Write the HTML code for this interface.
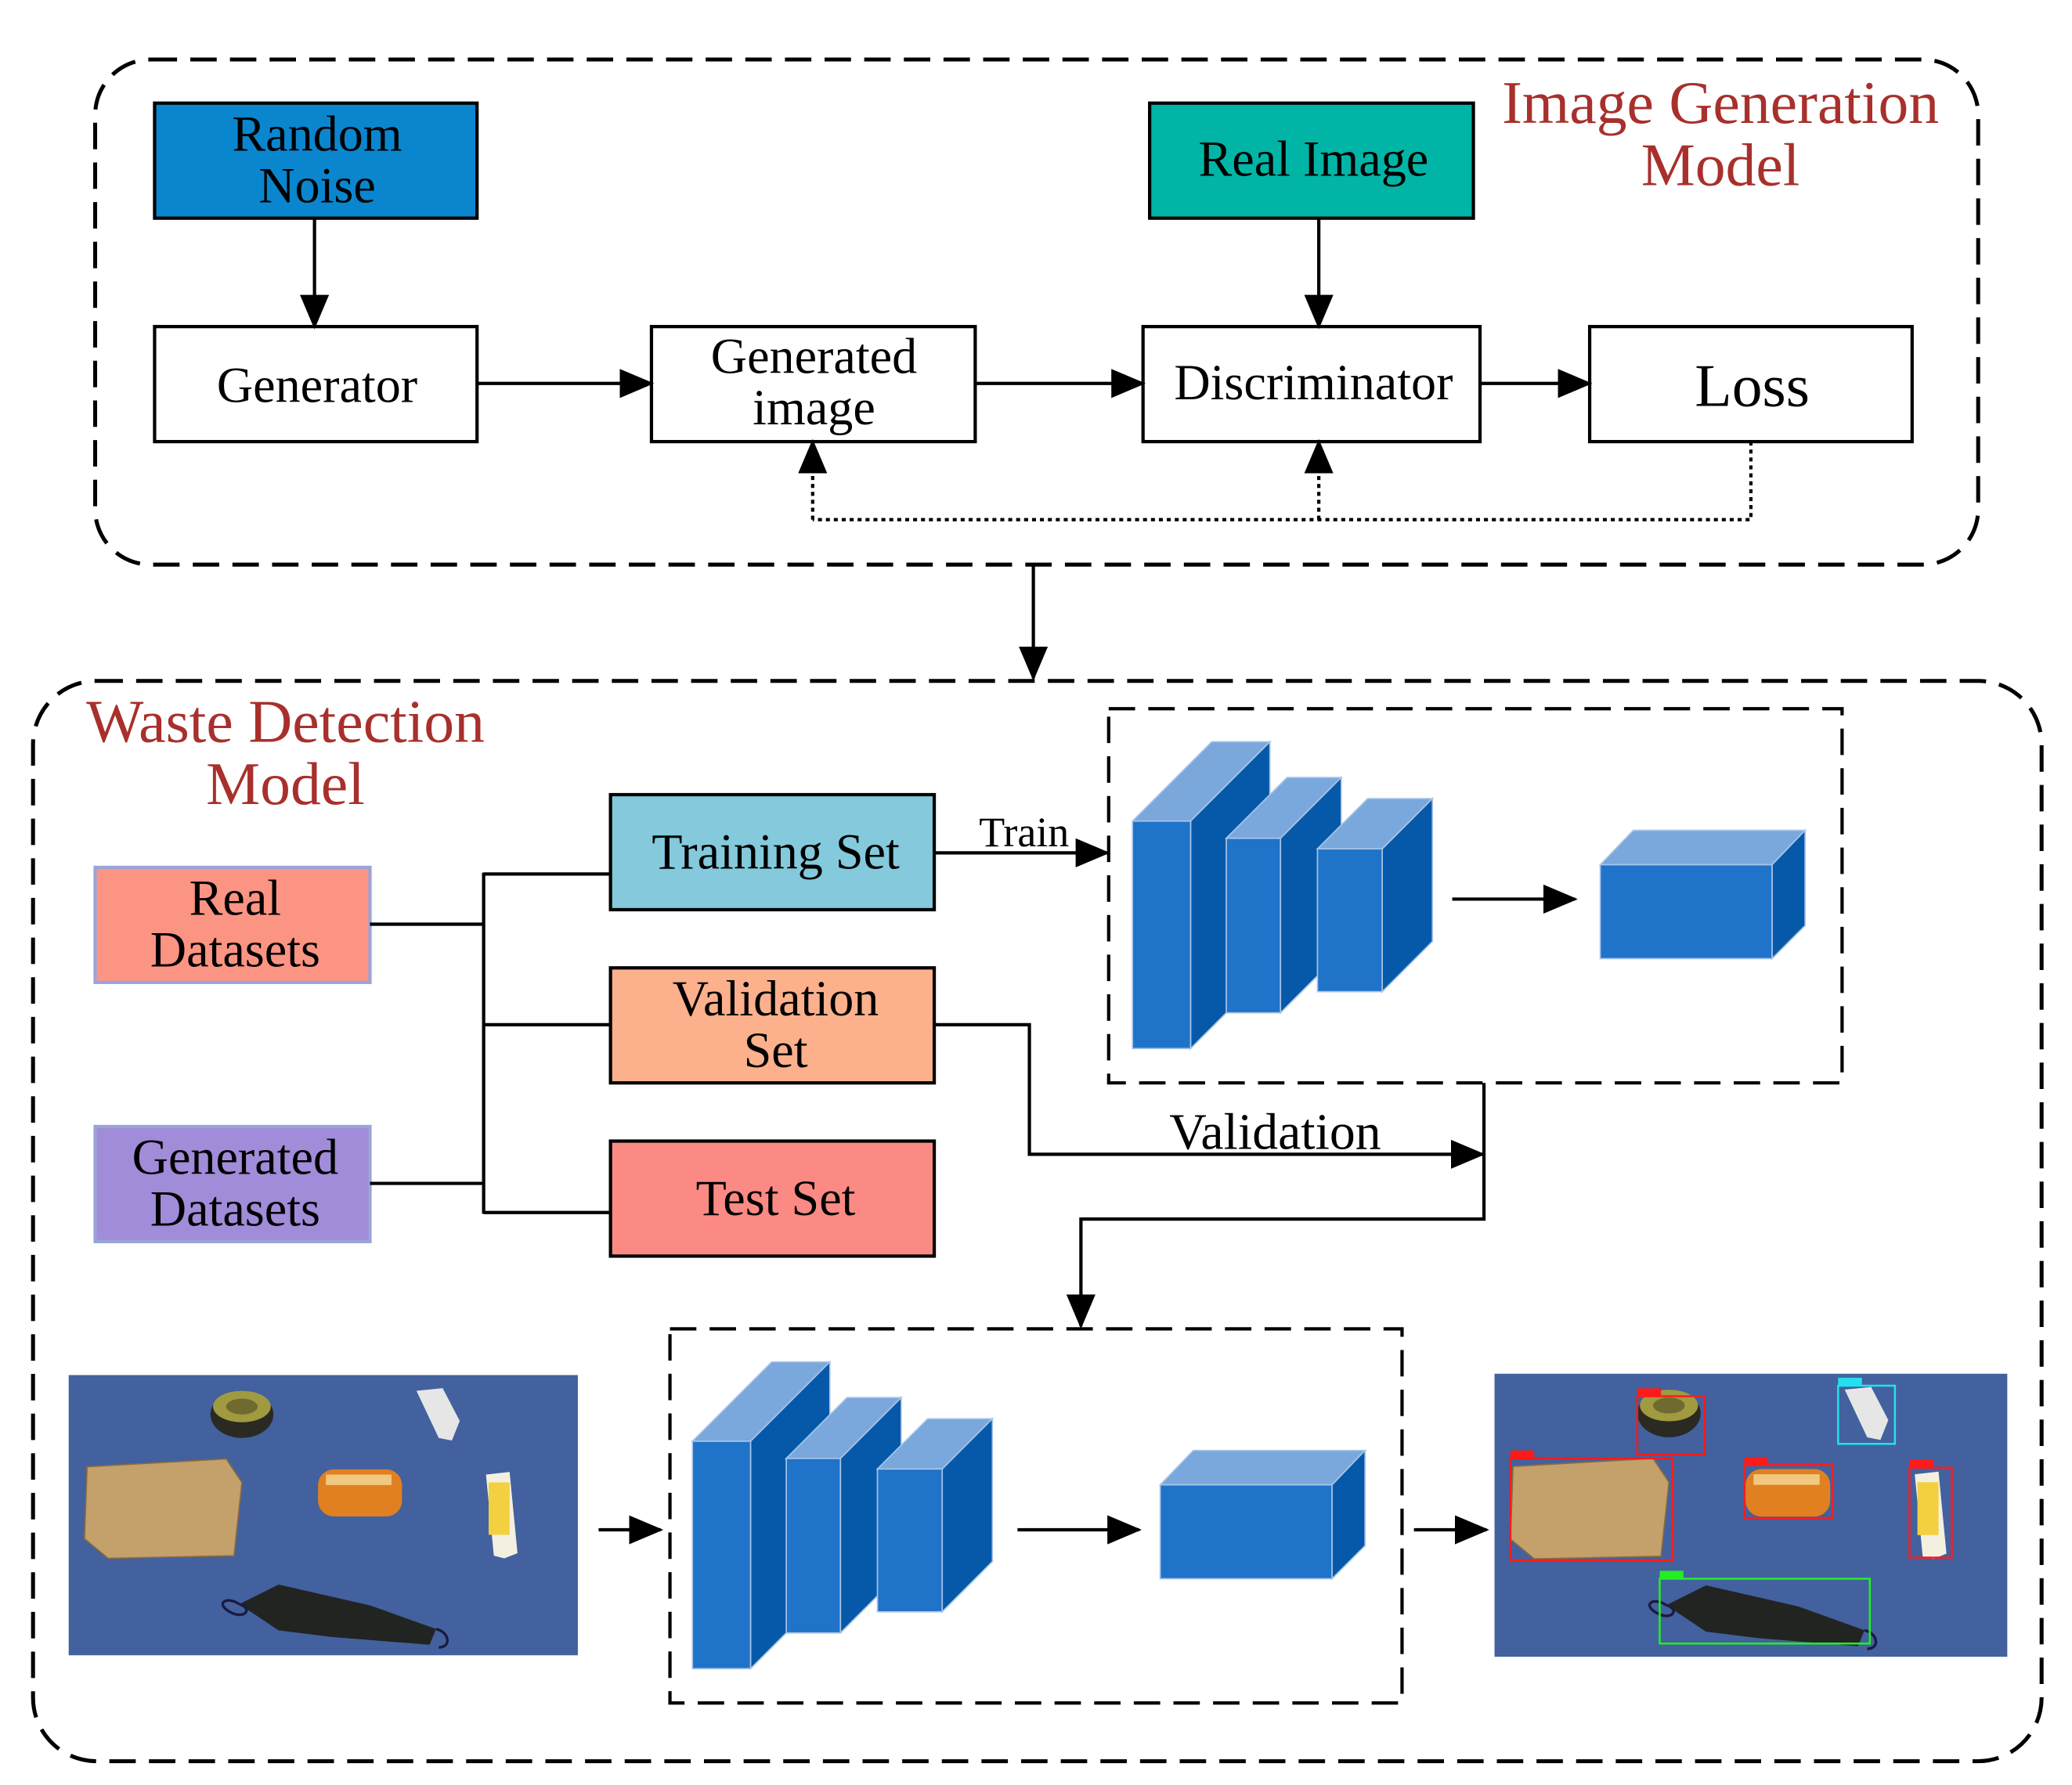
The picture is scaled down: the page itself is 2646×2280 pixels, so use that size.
<!DOCTYPE html>
<html><head><meta charset="utf-8"><style>
html,body{margin:0;padding:0;background:#fff;}
svg{display:block;}
text{font-family:"Liberation Serif",serif;}
</style></head><body>
<svg width="2646" height="2280" viewBox="0 0 1568 1350" preserveAspectRatio="none" xmlns="http://www.w3.org/2000/svg">
<defs>
<marker id="arb" markerWidth="26" markerHeight="22" refX="24" refY="11" orient="auto" markerUnits="userSpaceOnUse" viewBox="0 0 26 22">
<path d="M0,0 L26,11 L0,22 z" fill="#000"/></marker>
<g id="objs">
<rect x="0" y="0" width="388" height="214" fill="#3d5d9a"/>
<rect x="0" y="0" width="388" height="214" fill="#4a6aa6" opacity="0.4"/>
<path d="M14,70 L120,64 L132,82 L126,138 L30,140 L12,125 z" fill="#c4a06a"/>
<path d="M14,70 L120,64 L132,82 L126,138 L30,140 L12,125 z" fill="none" stroke="#8a6a40" stroke-width="1"/>
<ellipse cx="132" cy="30" rx="24" ry="18" fill="#2a2a22"/>
<ellipse cx="132" cy="24" rx="22" ry="12" fill="#a09a40"/>
<ellipse cx="132" cy="24" rx="12" ry="6" fill="#6e6a30"/>
<rect x="190" y="72" width="64" height="36" rx="12" fill="#e08020"/>
<rect x="196" y="76" width="50" height="8" fill="#f0c880"/>
<path d="M265,12 L285,10 L298,35 L292,50 L282,48 z" fill="#e6e6e6"/>
<path d="M318,76 L336,74 L342,136 L332,140 L324,138 z" fill="#f4f0e0"/>
<rect x="320" y="82" width="16" height="40" fill="#f2d040"/>
<path d="M130,175 L160,160 L230,176 L280,194 L275,206 L200,200 L160,195 z" fill="#222422"/>
<path d="M130,175 C120,168 110,175 125,182 C135,186 140,178 130,175" fill="none" stroke="#1a1a40" stroke-width="2"/>
<path d="M280,194 C290,196 292,208 282,208" fill="none" stroke="#1a1a40" stroke-width="2"/>
</g>
</defs>

<rect x="72" y="45" width="1425" height="382" rx="42" fill="none" stroke="#000" stroke-width="3" stroke-dasharray="20,10"/>
<text x="1302" y="93" font-size="46" fill="#a8302c" text-anchor="middle">Image Generation</text>
<text x="1302" y="140" font-size="46" fill="#a8302c" text-anchor="middle">Model</text>

<rect x="117" y="78" width="244" height="87" fill="#0a86cf" stroke="#000" stroke-width="2.5"/>
<text x="240" y="114" font-size="38" text-anchor="middle">Random</text>
<text x="240" y="153" font-size="38" text-anchor="middle">Noise</text>
<rect x="870" y="78" width="245" height="87" fill="#00b5a6" stroke="#000" stroke-width="2.5"/>
<text x="994" y="133" font-size="38" text-anchor="middle">Real Image</text>

<rect x="117" y="247" width="244" height="87" fill="#fff" stroke="#000" stroke-width="2.5"/>
<text x="240" y="304" font-size="38" text-anchor="middle">Generator</text>
<rect x="493" y="247" width="245" height="87" fill="#fff" stroke="#000" stroke-width="2.5"/>
<text x="616" y="282" font-size="38" text-anchor="middle">Generated</text>
<text x="616" y="321" font-size="38" text-anchor="middle">image</text>
<rect x="865" y="247" width="255" height="87" fill="#fff" stroke="#000" stroke-width="2.5"/>
<text x="994" y="302" font-size="38" text-anchor="middle">Discriminator</text>
<rect x="1203" y="247" width="244" height="87" fill="#fff" stroke="#000" stroke-width="2.5"/>
<text x="1326" y="307" font-size="46" text-anchor="middle">Loss</text>

<g stroke="#000" stroke-width="2.5" fill="none">
<line x1="238" y1="165" x2="238" y2="247" marker-end="url(#arb)"/>
<line x1="998" y1="165" x2="998" y2="247" marker-end="url(#arb)"/>
<line x1="361" y1="290" x2="493" y2="290" marker-end="url(#arb)"/>
<line x1="738" y1="290" x2="865" y2="290" marker-end="url(#arb)"/>
<line x1="1120" y1="290" x2="1203" y2="290" marker-end="url(#arb)"/>
<polyline points="1325,334 1325,393 615,393" stroke-dasharray="3,3"/>
<line x1="615" y1="393" x2="615" y2="334" stroke-dasharray="3,3" marker-end="url(#arb)"/>
<line x1="998" y1="393" x2="998" y2="334" stroke-dasharray="3,3" marker-end="url(#arb)"/>
<line x1="782" y1="427" x2="782" y2="513" marker-end="url(#arb)"/>
</g>

<rect x="25" y="515" width="1520" height="817" rx="48" fill="none" stroke="#000" stroke-width="3" stroke-dasharray="20,10"/>
<text x="216" y="561" font-size="46" fill="#a8302c" text-anchor="middle">Waste Detection</text>
<text x="216" y="608" font-size="46" fill="#a8302c" text-anchor="middle">Model</text>

<rect x="72" y="656" width="208" height="87" fill="#fc9483" stroke="#9aa4d8" stroke-width="2.5"/>
<text x="178" y="692" font-size="38" text-anchor="middle">Real</text>
<text x="178" y="731" font-size="38" text-anchor="middle">Datasets</text>
<rect x="72" y="852" width="208" height="87" fill="#a08cd8" stroke="#9aa4d8" stroke-width="2.5"/>
<text x="178" y="888" font-size="38" text-anchor="middle">Generated</text>
<text x="178" y="927" font-size="38" text-anchor="middle">Datasets</text>

<rect x="462" y="601" width="245" height="87" fill="#84c9dc" stroke="#000" stroke-width="2.5"/>
<text x="587" y="657" font-size="38" text-anchor="middle">Training Set</text>
<rect x="462" y="732" width="245" height="87" fill="#fcb08c" stroke="#000" stroke-width="2.5"/>
<text x="587" y="768" font-size="38" text-anchor="middle">Validation</text>
<text x="587" y="807" font-size="38" text-anchor="middle">Set</text>
<rect x="462" y="863" width="245" height="87" fill="#fc8a84" stroke="#000" stroke-width="2.5"/>
<text x="587" y="919" font-size="38" text-anchor="middle">Test Set</text>

<g stroke="#000" stroke-width="2.5" fill="none">
<line x1="280" y1="699" x2="366" y2="699"/>
<line x1="280" y1="895" x2="366" y2="895"/>
<line x1="366" y1="660" x2="366" y2="918"/>
<line x1="366" y1="661" x2="462" y2="661"/>
<line x1="366" y1="775" x2="462" y2="775"/>
<line x1="366" y1="917" x2="462" y2="917"/>
<line x1="707" y1="645" x2="838" y2="645" marker-end="url(#arb)"/>
<polyline points="707,775 779,775 779,873 1122,873" marker-end="url(#arb)"/>
<polyline points="1123,819 1123,922 818,922 818,1003" marker-end="url(#arb)"/>
<rect x="839" y="536" width="555" height="283" stroke-dasharray="20,10"/>
<rect x="507" y="1005" width="554" height="283" stroke-dasharray="20,10"/>
<line x1="1099" y1="680" x2="1192" y2="680" marker-end="url(#arb)"/>
<line x1="453" y1="1157" x2="500" y2="1157" marker-end="url(#arb)"/>
<line x1="770" y1="1157" x2="862" y2="1157" marker-end="url(#arb)"/>
<line x1="1070" y1="1157" x2="1125" y2="1157" marker-end="url(#arb)"/>
</g>
<text x="775" y="640" font-size="32" text-anchor="middle">Train</text>
<text x="965" y="869" font-size="39" text-anchor="middle">Validation</text>

<g id="cubes" stroke="#a8c4e8" stroke-width="1">
<path d="M857,621 L917,561 L961,561 L901,621 z" fill="#7aa8dc"/>
<path d="M901,621 L961,561 L961,733 L901,793 z" fill="#0559a8"/>
<rect x="857" y="621" width="44" height="172" fill="#1f73c9"/>
<path d="M928,634 L974,588 L1015,588 L969,634 z" fill="#7aa8dc"/>
<path d="M969,634 L1015,588 L1015,720 L969,766 z" fill="#0559a8"/>
<rect x="928" y="634" width="41" height="132" fill="#1f73c9"/>
<path d="M997,642 L1035,604 L1084,604 L1046,642 z" fill="#7aa8dc"/>
<path d="M1046,642 L1084,604 L1084,712 L1046,750 z" fill="#0559a8"/>
<rect x="997" y="642" width="49" height="108" fill="#1f73c9"/>
<path d="M1211,654 L1236,628 L1366,628 L1341,654 z" fill="#7aa8dc"/>
<path d="M1341,654 L1366,628 L1366,700 L1341,725 z" fill="#0559a8"/>
<rect x="1211" y="654" width="130" height="71" fill="#1f73c9"/>
</g>
<use href="#cubes" transform="translate(-333,469)"/>

<use href="#objs" transform="translate(52,1040) scale(0.993,0.99)"/>
<use href="#objs" transform="translate(1131,1039)"/>
<g fill="none" stroke-width="1.5">
<rect x="1143" y="1103" width="123" height="77" stroke="#ff1a1a"/>
<rect x="1239" y="1056" width="51" height="44" stroke="#ff1a1a"/>
<rect x="1320" y="1108" width="67" height="40" stroke="#ff1a1a"/>
<rect x="1391" y="1048" width="43" height="44" stroke="#22e0f0"/>
<rect x="1445" y="1110" width="32" height="68" stroke="#ff1a1a"/>
<rect x="1256" y="1194" width="159" height="49" stroke="#22ee22"/>
</g>
<g>
<rect x="1143" y="1097" width="18" height="6" fill="#ff1a1a"/>
<rect x="1239" y="1050" width="18" height="6" fill="#ff1a1a"/>
<rect x="1320" y="1102" width="18" height="6" fill="#ff1a1a"/>
<rect x="1391" y="1042" width="18" height="6" fill="#22e0f0"/>
<rect x="1445" y="1104" width="18" height="6" fill="#ff1a1a"/>
<rect x="1256" y="1188" width="18" height="6" fill="#22ee22"/>
</g>
</svg>
</body></html>
